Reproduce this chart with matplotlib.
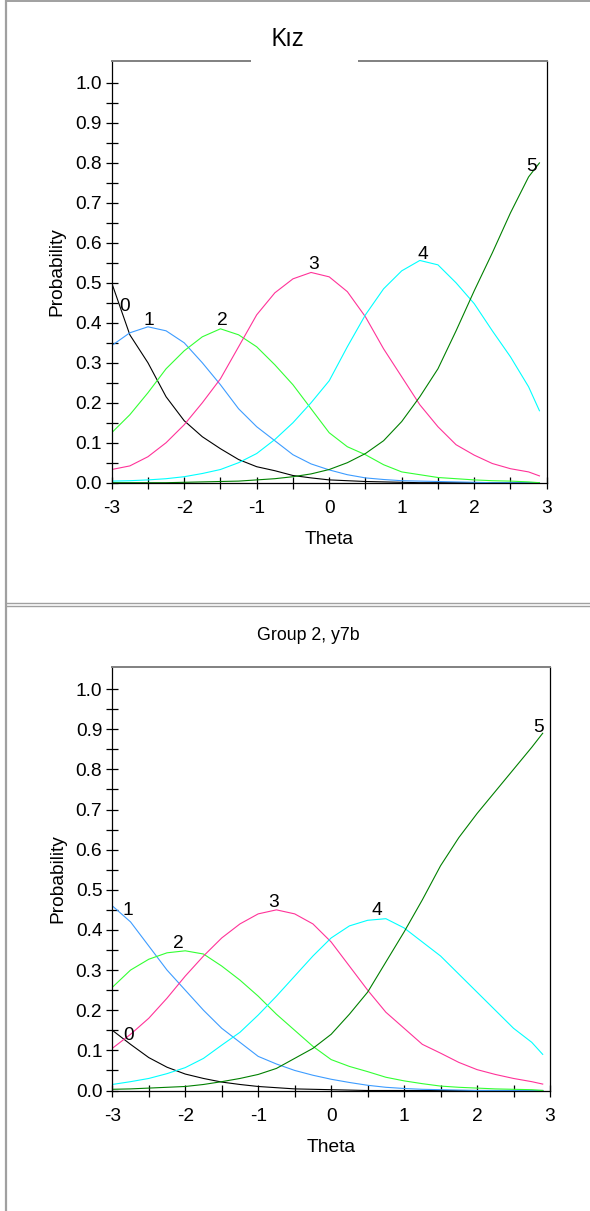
import numpy as np
import matplotlib
matplotlib.use("Agg")
from matplotlib import pyplot as plt
from matplotlib.lines import Line2D
from matplotlib.patches import Rectangle

plt.rcParams['font.family'] = ['Liberation Sans', 'DejaVu Sans']

W, H = 590, 1211

theta = [-3.0, -2.75, -2.5, -2.25, -2.0, -1.75, -1.5, -1.25, -1.0, -0.75,
         -0.5, -0.25, 0.0, 0.25, 0.5, 0.75, 1.0, 1.25, 1.5, 1.75,
         2.0, 2.25, 2.5, 2.75, 2.9]

categories = ["0", "1", "2", "3", "4", "5"]
colors = ["#000000", "#3d9cff", "#33ff33", "#ff3399", "#00ffff", "#008000"]

# panel 1 (Kız)
kiz_0 = [0.50, 0.37, 0.30, 0.215, 0.155, 0.115, 0.085, 0.058, 0.04, 0.03,
         0.018, 0.012, 0.007, 0.005, 0.003, 0.002, 0.001, 0, 0, 0,
         0, 0, 0, 0, 0]
kiz_1 = [0.343, 0.375, 0.39, 0.38, 0.35, 0.30, 0.245, 0.185, 0.14, 0.105,
         0.07, 0.047, 0.032, 0.02, 0.012, 0.008, 0.005, 0.004, 0.003, 0.002,
         0.001, 0, 0, 0, 0]
kiz_2 = [0.125, 0.17, 0.225, 0.285, 0.33, 0.365, 0.385, 0.37, 0.34, 0.295,
         0.245, 0.185, 0.125, 0.09, 0.07, 0.045, 0.027, 0.02, 0.013, 0.01,
         0.007, 0.005, 0.004, 0.002, 0.0]
kiz_3 = [0.033, 0.042, 0.065, 0.10, 0.145, 0.20, 0.26, 0.34, 0.42, 0.475,
         0.51, 0.526, 0.515, 0.478, 0.415, 0.335, 0.265, 0.195, 0.14, 0.095,
         0.069, 0.048, 0.035, 0.027, 0.017]
kiz_4 = [0.004, 0.005, 0.007, 0.01, 0.015, 0.023, 0.033, 0.05, 0.073, 0.108,
         0.15, 0.2, 0.255, 0.34, 0.42, 0.485, 0.53, 0.556, 0.545, 0.5,
         0.448, 0.38, 0.315, 0.24, 0.18]
kiz_5 = [0.0, 0.0, 0.0, 0.0, 0.001, 0.002, 0.003, 0.004, 0.007, 0.01,
         0.015, 0.022, 0.033, 0.05, 0.073, 0.105, 0.153, 0.215, 0.285, 0.38,
         0.48, 0.575, 0.675, 0.765, 0.80]

# panel 2 (Group 2, y7b)
grp2_0 = [0.15, 0.115, 0.082, 0.058, 0.041, 0.03, 0.021, 0.015, 0.01, 0.007,
          0.004, 0.003, 0.002, 0.001, 0, 0, 0, 0, 0, 0,
          0, 0, 0, 0, 0]
grp2_1 = [0.46, 0.42, 0.36, 0.30, 0.25, 0.20, 0.155, 0.12, 0.085, 0.066,
          0.05, 0.038, 0.028, 0.02, 0.013, 0.008, 0.005, 0.003, 0.002, 0.001,
          0, 0, 0, 0, 0]
grp2_2 = [0.257, 0.30, 0.327, 0.343, 0.348, 0.34, 0.31, 0.275, 0.235, 0.19,
          0.15, 0.11, 0.077, 0.06, 0.047, 0.033, 0.024, 0.017, 0.011, 0.008,
          0.006, 0.004, 0.003, 0.002, 0.0]
grp2_3 = [0.105, 0.14, 0.18, 0.23, 0.285, 0.335, 0.38, 0.415, 0.44, 0.45,
          0.44, 0.415, 0.37, 0.31, 0.25, 0.195, 0.155, 0.115, 0.093, 0.07,
          0.052, 0.04, 0.03, 0.022, 0.016]
grp2_4 = [0.015, 0.022, 0.03, 0.042, 0.057, 0.08, 0.113, 0.145, 0.188, 0.235,
          0.285, 0.335, 0.38, 0.41, 0.424, 0.428, 0.405, 0.37, 0.335, 0.29,
          0.245, 0.2, 0.155, 0.12, 0.09]
grp2_5 = [0.003, 0.004, 0.006, 0.008, 0.01, 0.015, 0.022, 0.03, 0.04, 0.055,
          0.08, 0.105, 0.14, 0.19, 0.245, 0.32, 0.395, 0.475, 0.56, 0.63,
          0.69, 0.745, 0.80, 0.855, 0.89]

y_ticks = [0.0, 0.1, 0.2, 0.3, 0.4, 0.5, 0.6, 0.7, 0.8, 0.9, 1.0]
x_ticks = [-3, -2, -1, 0, 1, 2, 3]


def fx(px):
    return px / W


def fy(py):
    return 1 - py / H


def draw_panel(fig, box, curves, label_pos):
    left, top, right, bottom = box
    ax = fig.add_axes([fx(left), fy(bottom), fx(right - left), (bottom - top) / H])

    for vals, col in zip(curves, colors):
        ax.plot(theta, vals, color=col, lw=0.8, solid_joinstyle='round')

    for cat, (lx, ly) in zip(categories, label_pos):
        ax.text(lx, ly, cat, fontsize=13.8, ha='center', va='center')

    ax.set_xlim(-3, 3)
    ax.set_ylim(0, 1.055)
    ax.set_yticks(y_ticks)
    ax.set_yticklabels(["%.1f" % v for v in y_ticks])
    ax.set_yticks(np.arange(0.05, 1.0, 0.1), minor=True)
    ax.set_xticks(x_ticks)
    ax.set_xticklabels([str(v) for v in x_ticks])
    ax.set_xticks([-2.5, -1.5, -0.5, 0.5, 1.5, 2.5], minor=True)

    ax.tick_params(axis='y', which='both', direction='inout', length=8,
                   width=0.9, labelsize=13.8, pad=3.2)
    ax.tick_params(axis='x', which='both', direction='inout', length=9,
                   width=0.9, labelsize=13.8, pad=8)

    ax.spines['top'].set_color('#808080')
    ax.spines['top'].set_linewidth(1.4)
    for s in ['left', 'right', 'bottom']:
        ax.spines[s].set_linewidth(0.9)

    ax.set_xlabel("Theta", fontsize=13.8, labelpad=10)
    ax.set_ylabel("Probability", fontsize=13.8, labelpad=7)
    return ax


fig = plt.figure(figsize=(W / 100, H / 100), dpi=100)

draw_panel(fig, (111.7, 61, 546.7, 482.7),
           [kiz_0, kiz_1, kiz_2, kiz_3, kiz_4, kiz_5],
           [(-2.82, 0.44), (-2.49, 0.407), (-1.48, 0.407),
            (-0.21, 0.545), (1.29, 0.57), (2.79, 0.79)])

draw_panel(fig, (112.3, 667, 550.0, 1090.5),
           [grp2_0, grp2_1, grp2_2, grp2_3, grp2_4, grp2_5],
           [(-2.78, 0.137), (-2.79, 0.449), (-2.09, 0.367),
            (-0.79, 0.469), (0.63, 0.449), (2.84, 0.905)])

# titles
fig.add_artist(Rectangle((fx(251), fy(64)), fx(357.5 - 251), 6 / H,
                         transform=fig.transFigure, facecolor='white',
                         edgecolor='none', zorder=10))
fig.text(fx(287), fy(39), "Kız", fontsize=18, family=['Open Sans', 'DejaVu Sans'],
         ha='center', va='center')
fig.text(fx(308), fy(636), "Group 2, y7b", fontsize=12.8, ha='center', va='center')

# surrounding frame lines
fig.add_artist(Line2D([fx(6), fx(6)], [0, 1], transform=fig.transFigure,
                      color='#a0a0a0', lw=1.6))
fig.add_artist(Line2D([fx(6), 1], [fy(0.8), fy(0.8)], transform=fig.transFigure,
                      color='#a0a0a0', lw=1.4))
fig.add_artist(Line2D([fx(6), 1], [fy(603.3), fy(603.3)], transform=fig.transFigure,
                      color='#a0a0a0', lw=1.0))
fig.add_artist(Line2D([fx(6), 1], [fy(606), fy(606)], transform=fig.transFigure,
                      color='#a0a0a0', lw=1.0))

fig.savefig("out.png", dpi=100)
